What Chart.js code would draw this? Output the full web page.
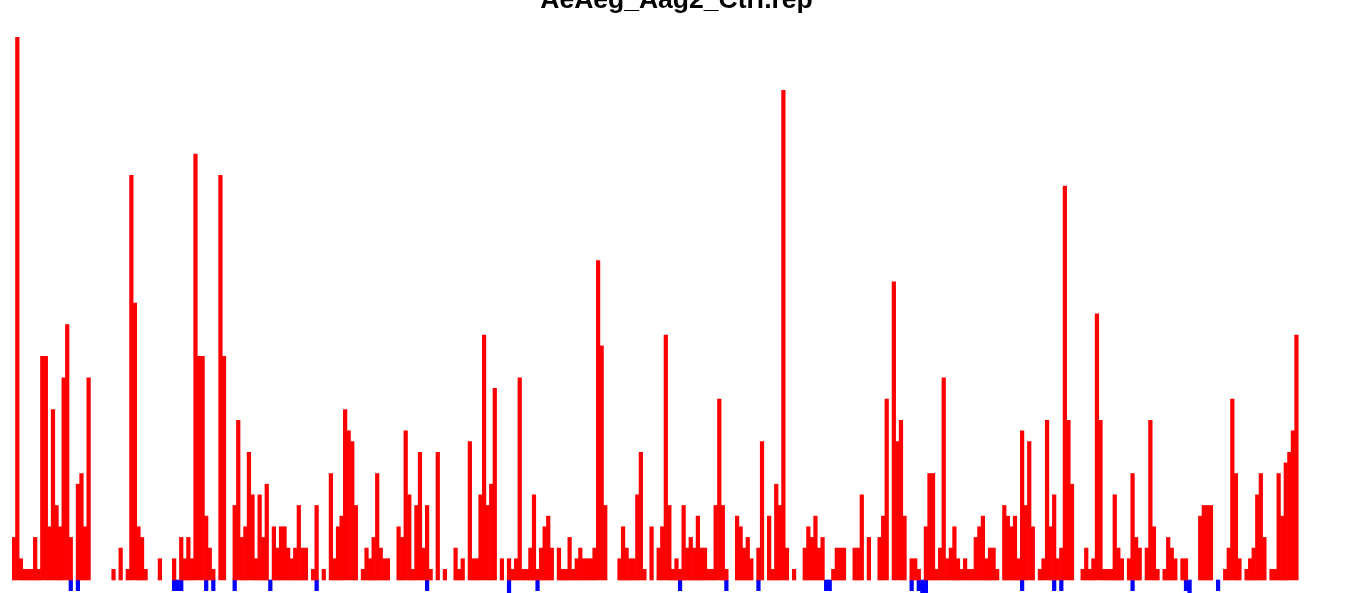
<!DOCTYPE html>
<html>
<head>
<meta charset="utf-8">
<script src="https://cdn.jsdelivr.net/npm/chart.js@4.4.1/dist/chart.umd.min.js"></script>
<style>
  body { margin: 0; background: #ffffff; }
  #wrap { position: relative; width: 1352px; height: 593px; overflow: hidden; }
  #grafico { position: absolute; left: 0; top: -15px; }
</style>
</head>
<body>
<div id="wrap"><canvas id="grafico" width="1352" height="608"></canvas></div>
<script>
// titulo e dados
const titulo = "AeAeg_Aag2_Ctrl.rep";
const totalBins = 373;

// contagens em vermelho (acima da linha)
const redCounts = [
  4, 51, 2, 1, 1, 1, 4, 1, 21, 21, 5, 16, 7, 5, 19, 24, 4, 0, 9, 10, 5, 19, 0, 0, 0, 0, 0, 0, 1, 0,
  3, 0, 1, 38, 26, 5, 4, 1, 0, 0, 0, 2, 0, 0, 0, 2, 0, 4, 2, 4, 2, 40, 21, 21, 6, 3, 1, 0, 38, 21,
  0, 0, 7, 15, 4, 5, 12, 8, 2, 8, 4, 9, 0, 5, 3, 5, 5, 3, 2, 3, 7, 3, 3, 0, 1, 7, 0, 1, 0, 10,
  2, 5, 6, 16, 14, 13, 7, 0, 1, 3, 2, 4, 10, 3, 2, 2, 0, 0, 5, 4, 14, 8, 1, 7, 12, 3, 7, 1, 0, 12,
  0, 1, 0, 0, 3, 1, 2, 0, 13, 2, 2, 8, 23, 7, 9, 18, 0, 2, 0, 2, 1, 2, 19, 1, 1, 3, 8, 1, 3, 5,
  6, 3, 0, 3, 1, 1, 4, 1, 2, 3, 2, 2, 2, 3, 30, 22, 7, 0, 0, 0, 2, 5, 3, 2, 2, 8, 12, 1, 0, 5,
  0, 3, 5, 23, 7, 1, 2, 1, 7, 3, 4, 3, 6, 3, 3, 1, 1, 7, 17, 7, 1, 0, 0, 6, 5, 3, 4, 2, 0, 3,
  13, 0, 6, 1, 9, 7, 46, 3, 0, 1, 0, 0, 3, 5, 4, 6, 3, 4, 0, 0, 1, 3, 3, 3, 0, 0, 3, 3, 8, 0,
  4, 0, 0, 4, 6, 17, 0, 28, 13, 15, 6, 0, 2, 2, 1, 0, 5, 10, 10, 1, 3, 19, 2, 3, 5, 2, 1, 2, 1, 1,
  4, 5, 6, 2, 3, 3, 1, 0, 7, 6, 5, 6, 2, 14, 7, 13, 5, 0, 1, 2, 15, 5, 8, 2, 3, 37, 15, 9, 0, 0,
  1, 3, 1, 2, 25, 15, 1, 1, 1, 8, 3, 2, 0, 2, 10, 4, 3, 0, 3, 15, 5, 1, 0, 1, 4, 3, 2, 0, 2, 2,
  0, 0, 0, 6, 7, 7, 7, 0, 0, 0, 1, 3, 17, 10, 2, 0, 1, 2, 3, 8, 10, 4, 0, 1, 1, 10, 6, 11, 12, 14, 23
];

// marcas azuis (abaixo da linha): posicao do bin e valor
const blueBins = [17, 19, 46, 47, 48, 55, 57, 63, 73, 86, 117, 140, 148, 188, 201, 210,
                  229, 230, 253, 255, 256, 257, 284, 293, 295, 315, 330, 331, 339];
const blueCounts = [-1, -1, -1, -1, -1, -1, -1, -1, -1, -1, -1, -1.2, -1, -1, -1, -1,
                    -1, -1, -1, -1, -1.2, -1.2, -1, -1, -1, -1, -1, -1.2, -1];

const labels = [];
for (let i = 1; i <= totalBins; i++) labels.push(i);

const blueData = labels.map(() => null);
blueBins.forEach((b, i) => { blueData[b - 1] = blueCounts[i]; });

const fonte = "'Liberation Sans', Arial, Helvetica, sans-serif";

new Chart(document.getElementById("grafico").getContext("2d"), {
  type: "bar",
  data: {
    labels: labels,
    datasets: [
      {
        label: "plus",
        data: redCounts,
        backgroundColor: c => c.raw ? "#ff0000" : "rgba(0,0,0,0)",
      },
      {
        label: "minus",
        data: blueData,
        backgroundColor: "#0000ff",
      },
    ],
  },
  options: {
    responsive: false,
    animation: false,
    datasets: {
      bar: { grouped: false, barPercentage: 1, categoryPercentage: 1, borderWidth: 0 }
    },
    layout: { padding: { left: 12, right: 11, top: 0, bottom: 0 } },
    plugins: {
      legend: { display: false },
      tooltip: { enabled: false },
      title: {
        display: true,
        text: titulo,
        color: "#000000",
        font: { family: fonte, size: 26.5, weight: "bold" },
        padding: { top: 0, bottom: 20.2 },
      },
    },
    scales: {
      x: { display: false },
      y: {
        min: -1.22,
        max: 51,
        ticks: { display: false },
        border: { display: false },
        grid: {
          drawTicks: false,
          lineWidth: 1.5,
          color: c => (c.tick && c.tick.value === 0) ? "#a9a9a9" : "rgba(0,0,0,0)",
        },
      },
    },
  },
});
</script>
</body>
</html>
